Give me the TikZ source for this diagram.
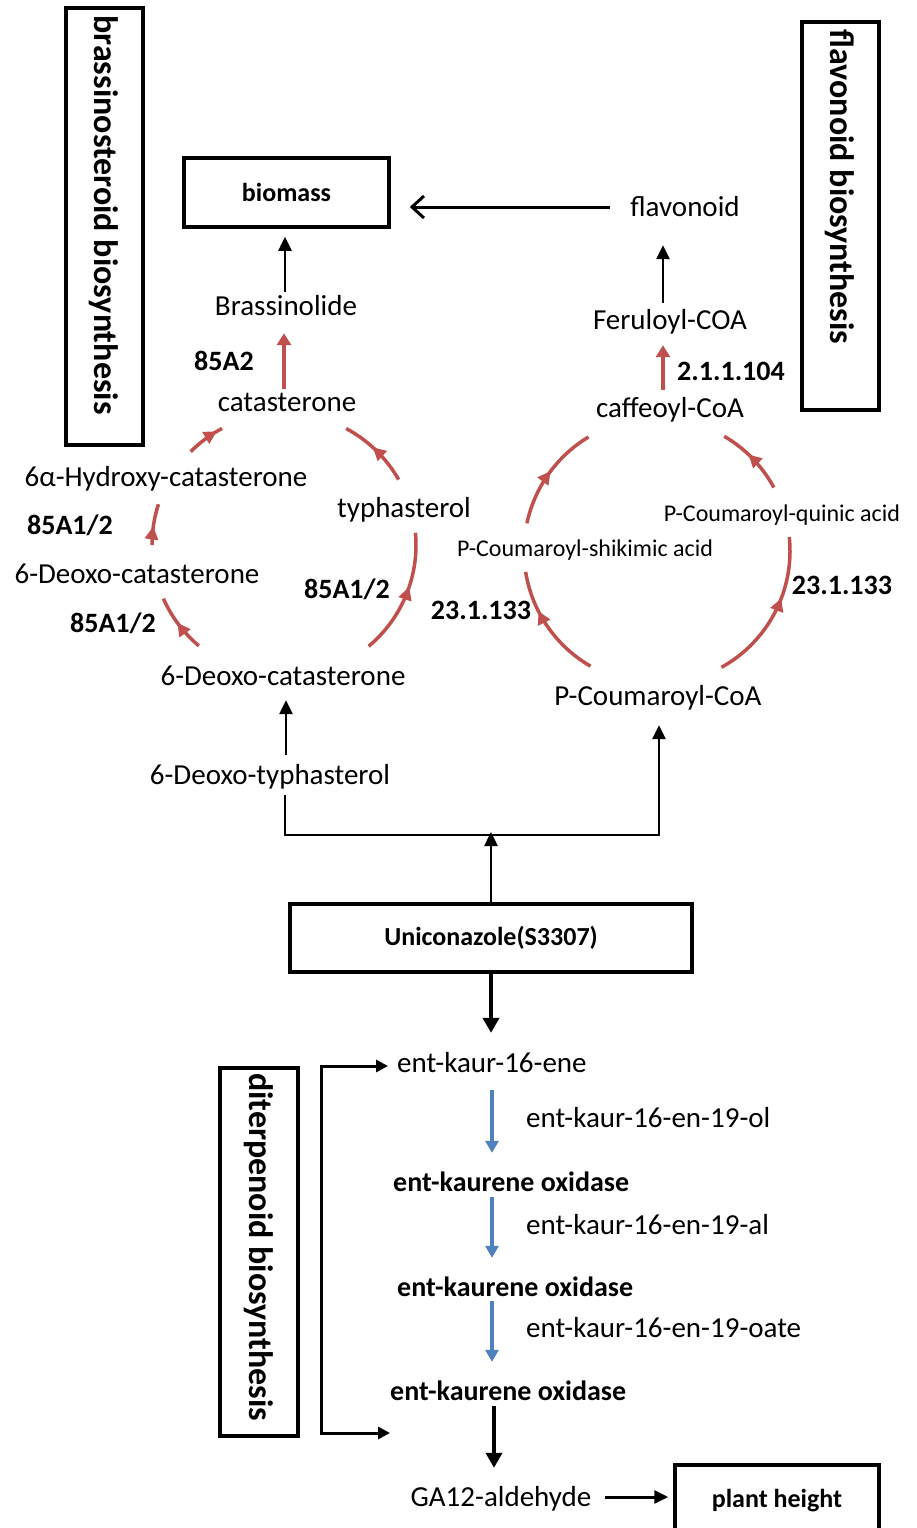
\documentclass[tikz,border=0pt]{standalone}
\usepackage{fontspec}
\setmainfont{Carlito}
\usetikzlibrary{arrows.meta,decorations.markings,calc}
\definecolor{pathred}{HTML}{C0504D}
\definecolor{pathblue}{HTML}{4F81BD}
\tikzset{
  lbl/.style={inner sep=0pt, font=\fontsize{29}{31}\selectfont, text height=22pt, text depth=3pt},
  slbl/.style={inner sep=0pt, font=\fontsize{24}{26}\selectfont, text height=18.5pt, text depth=2.5pt},
  enz/.style={inner sep=0pt, font=\fontsize{28}{30}\selectfont\bfseries, text height=22pt, text depth=3pt},
  framebox/.style={draw, line width=3.5pt, inner sep=0pt},
  boxlbl/.style={font=\fontsize{26}{28}\selectfont\bfseries},
  sidetitle/.style={inner sep=0pt, font=\fontsize{34}{36}\selectfont\bfseries, rotate=-90},
  blk/.style={draw=black, line width=2.5pt, -{Triangle[length=14pt,width=13pt]}},
  redarr/.style={draw=pathred, line width=4pt, -{Triangle[length=12pt,width=14pt]}},
  bluearr/.style={draw=pathblue, line width=4pt, -{Triangle[length=12pt,width=13pt]}},
  redarc/.style={draw=pathred, line width=3.5pt, postaction={decorate},
    decoration={markings, mark=at position #1 with {\arrow{Triangle[length=13pt,width=13pt]}}}}
}
\begin{document}
\begin{tikzpicture}[x=1pt,y=-1pt]
\useasboundingbox (0,0) rectangle (917,1528);
% side boxes
\node[framebox, minimum width=77pt, minimum height=437pt] (bsbox) at (104.5,226.5) {};
\node[sidetitle] (bstitle) at (104,215) {brassinosteroid biosynthesis};
\node[framebox, minimum width=77pt, minimum height=388pt] (flbox) at (840.5,216) {};
\node[sidetitle] (fltitle) at (840,187) {flavonoid biosynthesis};
\node[framebox, minimum width=78pt, minimum height=368pt] (dtbox) at (259,1252) {};
\node[sidetitle] (dttitle) at (259,1247) {diterpenoid biosynthesis};
% main boxes
\node[framebox, boxlbl, minimum width=205pt, minimum height=69pt] (biomass) at (286.5,192.5) {biomass};
\node[framebox, boxlbl, minimum width=402pt, minimum height=68pt] (uni) at (491,938) {Uniconazole(S3307)};
\node[framebox, boxlbl, minimum width=204pt, minimum height=72pt] (plant) at (777,1501) {plant height};
% flavonoid side
\node[lbl] (flav) at (685,207) {flavonoid};
\node[lbl] (fer) at (670,320) {Feruloyl-COA};
\node[enz] (e211) at (731,371) {2.1.1.104};
\node[lbl] (caf) at (670,408) {caffeoyl-CoA};
\node[slbl] (pcs) at (585,548) {P-Coumaroyl-shikimic acid};
\node[slbl] (pcq) at (782,513) {P-Coumaroyl-quinic acid};
\node[enz] (e23a) at (481,610) {23.1.133};
\node[enz] (e23b) at (842,585) {23.1.133};
\node[lbl] (pcoa) at (658,696) {P-Coumaroyl-CoA};
% brassinosteroid side
\node[lbl] (brass) at (286,306) {Brassinolide};
\node[enz] (e85a2) at (224,361) {85A2};
\node[lbl] (cat) at (287,402) {catasterone};
\node[lbl] (hcat) at (166,477) {6α-Hydroxy-catasterone};
\node[enz] (e85a) at (70,525) {85A1/2};
\node[lbl] (dcatl) at (137,574) {6-Deoxo-catasterone};
\node[enz] (e85b) at (113,623) {85A1/2};
\node[lbl] (typh) at (404,508) {typhasterol};
\node[enz] (e85c) at (347,589) {85A1/2};
\node[lbl] (dcat) at (283,676) {6-Deoxo-catasterone};
\node[lbl] (dtyph) at (270,775) {6-Deoxo-typhasterol};
% diterpenoid
\node[lbl, anchor=west] (ek) at (397,1063) {ent-kaur-16-ene};
\node[lbl, anchor=west] (ol) at (526,1118) {ent-kaur-16-en-19-ol};
\node[enz, anchor=west] (ko1) at (393,1182) {ent-kaurene oxidase};
\node[lbl, anchor=west] (al) at (526,1225) {ent-kaur-16-en-19-al};
\node[enz, anchor=west] (ko2) at (397,1287) {ent-kaurene oxidase};
\node[lbl, anchor=west] (oate) at (526,1328) {ent-kaur-16-en-19-oate};
\node[enz, anchor=west] (ko3) at (390,1391) {ent-kaurene oxidase};
\node[lbl] (ga) at (501,1497) {GA12-aldehyde};
% straight connectors
\draw[line width=3pt, -{Straight Barb[length=12pt,width=22pt]}, shorten <=20pt, shorten >=19pt] (flav.west) -- (flav.west -| biomass.east);
\draw[blk, shorten <=4.5pt, shorten >=25.5pt] ([xshift=-7pt]fer.north) -- ([xshift=-7pt]fer.north |- flav.south);
\draw[redarr, shorten <=5.5pt, shorten >=12.5pt] ([xshift=-7pt]caf.north) -- ([xshift=-7pt]caf.north |- fer.south);
\draw[blk, shorten <=1.5pt, shorten >=8pt] ([xshift=-1pt]brass.north) -- ([xshift=-1pt]brass.north |- biomass.south);
\draw[redarr, shorten >=14.5pt] ([xshift=-3pt]cat.north) -- ([xshift=-3pt]cat.north |- brass.south);
\draw[blk, shorten <=7.5pt, shorten >=11.5pt] ([xshift=16pt]dtyph.north) -- ([xshift=16pt]dtyph.north |- dcat.south);
\coordinate (jl) at (285,835);
\coordinate (jr) at (659,835);
\draw[blk, shorten <=7.5pt, shorten >=16.5pt] (jl |- dtyph.south) -- (jl) -- (jr) -- (jr |- pcoa.south);
\draw[blk, shorten >=-3pt] (uni.north) -- (uni.north |- jl);
\draw[blk, line width=4pt, -{Triangle[length=15pt,width=16pt]}, shorten >=17.5pt] (uni.south) -- (uni.south |- ek.north);
\draw[line width=3pt, {Triangle[length=12pt,width=12pt]}-{Triangle[length=12pt,width=12pt]}] ([xshift=-9pt,yshift=-3pt]ek.west) -- ++(-67,0) -- ++(0,367) -- ++(69,0);
\coordinate (ax) at (492,0);
\coordinate (ax2) at (494,0);
\draw[bluearr, shorten <=14.5pt, shorten >=16.5pt] (ax |- ek.south) -- (ax |- ko1.north);
\draw[bluearr, shorten <=2.5pt, shorten >=16.5pt] (ax |- ko1.south) -- (ax |- ko2.north);
\draw[bluearr, shorten <=1.5pt, shorten >=16.5pt] (ax |- ko2.south) -- (ax |- ko3.north);
\draw[blk, line width=4pt, -{Triangle[length=15pt,width=16pt]}, shorten <=2.5pt, shorten >=16.5pt] (ax2 |- ko3.south) -- (ax2 |- ga.north);
\draw[blk, line width=3pt, shorten <=13pt, shorten >=5pt] (ga.east) -- (ga.east -| plant.west);
% left cycle
\draw[redarc=0.85] ([shift={(284,545)}]-135:132) arc[start angle=-135, end angle=-118, radius=132];
\draw[redarc=0.56] ([shift={(284,545)}]-29.7:132) arc[start angle=-29.7, end angle=-61.9, radius=132];
\draw[redarc=0.45] ([shift={(284,545)}]-180:132) arc[start angle=-180, end angle=-162, radius=132];
\draw[redarc=0.53] ([shift={(284,545)}]-229.8:132) arc[start angle=-229.8, end angle=-204, radius=132];
\draw[redarc=0.57] ([shift={(284,545)}]50.1:132) arc[start angle=50.1, end angle=-5.3, radius=132];
% right cycle
\draw[redarc=0.53] ([shift={(657,551)}]-168:133) arc[start angle=-168, end angle=-121, radius=133];
\draw[redarc=0.58] ([shift={(657,551)}]-28.5:133) arc[start angle=-28.5, end angle=-59.6, radius=133];
\draw[redarc=0.65] ([shift={(657,551)}]-240:133) arc[start angle=-240, end angle=-189, radius=133];
\draw[redarc=0.6] ([shift={(657,551)}]61:133) arc[start angle=61, end angle=-6, radius=133];
\end{tikzpicture}
\end{document}
